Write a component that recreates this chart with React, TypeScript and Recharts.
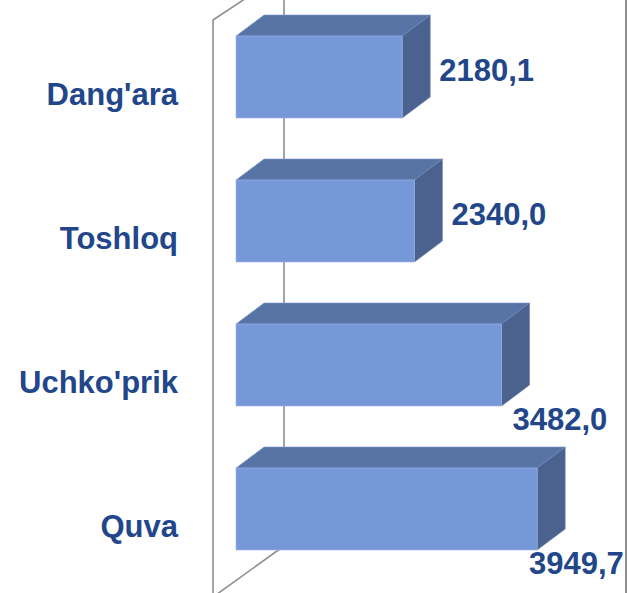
import React from "react";
import { BarChart, Bar, XAxis, YAxis, LabelList } from "recharts";

const categories = ["Dang'ara", "Toshloq", "Uchko'prik", "Quva"];
const values = [2180.1, 2340.0, 3482.0, 3949.7];

const data = categories.map((name, i) => ({ name, value: values[i] }));

const W = 628;
const H = 593;
const LEFT = 236;
const TOP = 5;
const BOTTOM = 12;
const DOMAIN_MAX = 5030;
const RIGHT = 8.4;
const DEPTH_X = 28;
const DEPTH_Y = 21;
const TEXT = "#22468A";
const FONT = "'Liberation Sans', Arial, sans-serif";
const FONT_SIZE = 31;
const LINE = "#8F8F8F";

const Bar3D = (props: any) => {
  const { x, y, width, height } = props;
  const fx = x + width;
  const front = `M${x},${y}h${width}v${height}h${-width}Z`;
  const top = `M${x},${y}L${x + DEPTH_X},${y - DEPTH_Y}L${fx + DEPTH_X},${y - DEPTH_Y}L${fx},${y}Z`;
  const side = `M${fx},${y}L${fx + DEPTH_X},${y - DEPTH_Y}L${fx + DEPTH_X},${y + height - DEPTH_Y}L${fx},${y + height}Z`;
  return (
    <g>
      <path d={top} fill="#5874A7" stroke="#7E97C8" strokeWidth={0.6} />
      <path d={side} fill="#4A628D" stroke="#6F87B5" strokeWidth={0.6} />
      <path d={front} fill="#7698D9" stroke="#9DB3E0" strokeWidth={0.6} />
    </g>
  );
};

const fmt = (v: number) => v.toFixed(1).replace(".", ",");

const ValueLabel = (props: any) => {
  const { x, y, width, height, value } = props;
  const text = fmt(Number(value));
  const tw = text.length * 0.5 * FONT_SIZE;
  const right = x + width;
  let lx = right + 37;
  let ly = y + height / 2 + 4;
  if (lx + tw > W - 6) {
    lx = Math.min(right + 11, W - 6 - tw);
    ly = y + height + 24;
  }
  return (
    <text x={lx} y={ly} fill={TEXT} fontFamily={FONT} fontWeight="bold" fontSize={FONT_SIZE}>
      {text}
    </text>
  );
};

const CategoryLabel = (props: any) => {
  const { x, y, height, value } = props;
  return (
    <text x={x - 58} y={y + height / 2 + 28} textAnchor="end" fill={TEXT} fontFamily={FONT} fontWeight="bold" fontSize={FONT_SIZE}>
      {value}
    </text>
  );
};

const Walls = () => {
  const x0 = LEFT;
  const wl = x0 - 23;
  const wb = x0 + 48;
  const yTop = TOP + 15;
  const plotBottom = H - BOTTOM;
  return (
    <svg width={W} height={H} style={{ position: "absolute", left: 0, top: 0 }}>
      <line x1={wl} y1={yTop} x2={wl} y2={H} stroke={LINE} strokeWidth={1.6} />
      <line x1={wl} y1={yTop} x2={wb} y2={yTop - 47} stroke={LINE} strokeWidth={1.6} />
      <line x1={wb} y1={0} x2={wb} y2={plotBottom - 35} stroke={LINE} strokeWidth={1.6} />
      <line x1={wl} y1={H + 4} x2={wb} y2={plotBottom - 35} stroke={LINE} strokeWidth={1.6} />
      <line x1={W - 2} y1={0} x2={W - 2} y2={H} stroke={LINE} strokeWidth={2} />
    </svg>
  );
};

export default function App() {
  return (
    <div style={{ position: "absolute", left: 0, top: 0, width: W, height: H, background: "#fff" }}>
      <Walls />
      <div style={{ position: "absolute", left: 0, top: 0 }}>
        <BarChart
          width={W}
          height={H}
          data={data}
          layout="vertical"
          margin={{ top: TOP, right: RIGHT, bottom: BOTTOM, left: LEFT }}
        >
          <XAxis type="number" domain={[0, DOMAIN_MAX]} hide />
          <YAxis type="category" dataKey="name" hide />
          <Bar dataKey="value" barSize={82} shape={Bar3D} isAnimationActive={false}>
            <LabelList dataKey="name" content={CategoryLabel} />
            <LabelList dataKey="value" content={ValueLabel} />
          </Bar>
        </BarChart>
      </div>
    </div>
  );
}
